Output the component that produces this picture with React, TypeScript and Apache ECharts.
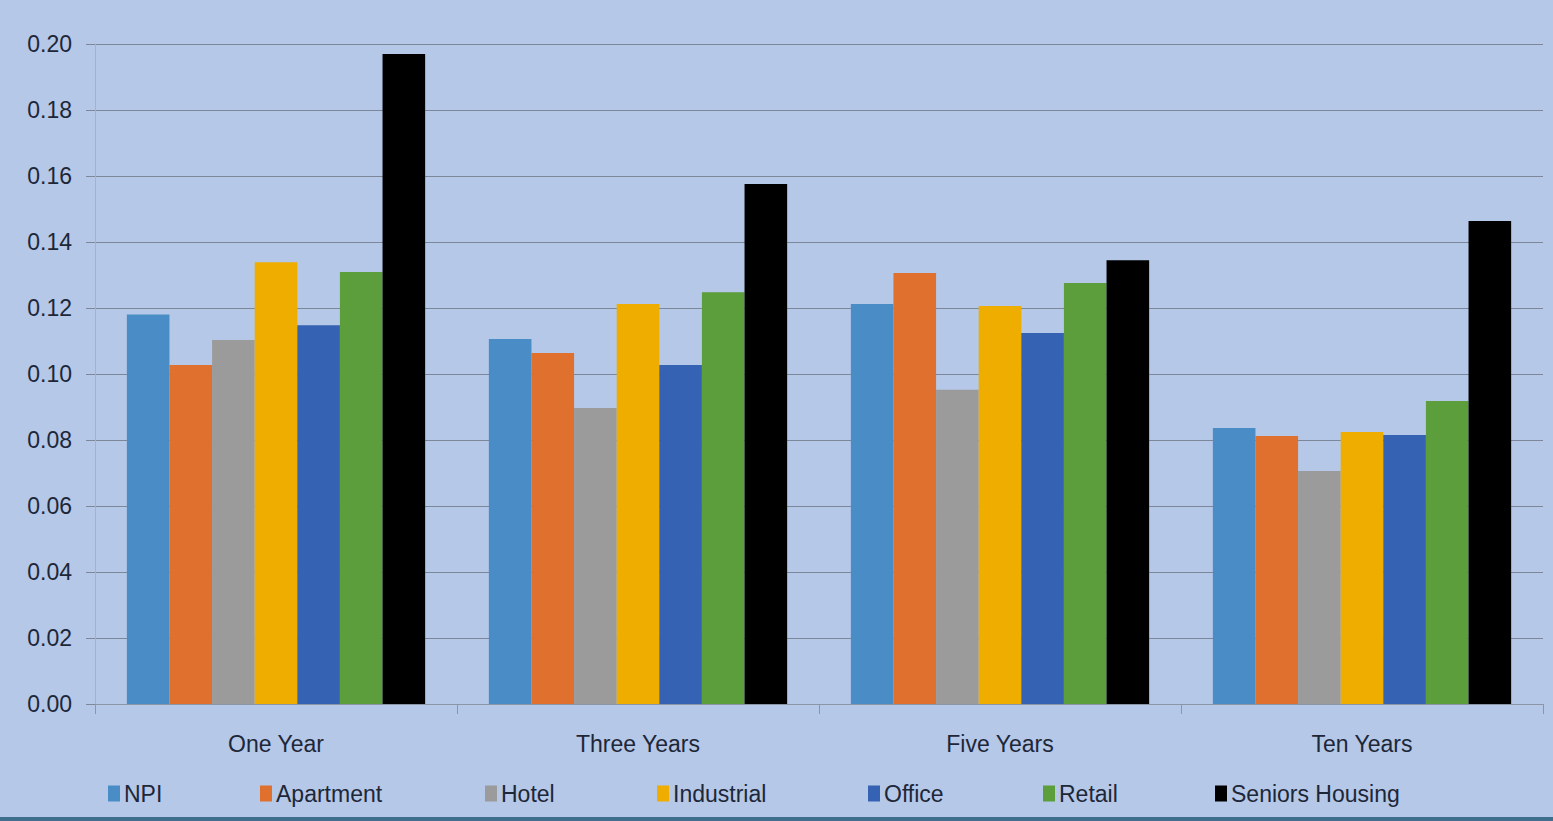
import React, { useEffect, useRef } from "react";
import * as echarts from "echarts";

const categories = ["One Year", "Three Years", "Five Years", "Ten Years"];
const seriesNames = ["NPI", "Apartment", "Hotel", "Industrial", "Office", "Retail", "Seniors Housing"];
const seriesColors = ["#4a8dc6", "#e0702d", "#9b9b9b", "#efad00", "#3562b2", "#5b9e3b", "#000000"];
const npi = [0.118, 0.1106, 0.1212, 0.0836];
const apartment = [0.1027, 0.1064, 0.1306, 0.0812];
const hotel = [0.1103, 0.0897, 0.0952, 0.0706];
const industrial = [0.1339, 0.1212, 0.1206, 0.0824];
const office = [0.1148, 0.1027, 0.1124, 0.0815];
const retail = [0.1309, 0.1248, 0.1276, 0.0918];
const seniors = [0.197, 0.1576, 0.1345, 0.1464];
const seriesValues = [npi, apartment, hotel, industrial, office, retail, seniors];
const legendLefts = [108, 260, 485, 657, 868, 1043, 1215];

const FONT = "'Liberation Sans Narrow', 'Liberation Sans', Arial, sans-serif";

export default function App() {
  const ref = useRef<HTMLDivElement>(null);
  useEffect(() => {
    document.body.style.margin = "0";
    const chart = echarts.init(ref.current!, undefined, { renderer: "svg" });
    chart.setOption({
      animation: false,
      backgroundColor: "#b5c8e8",
      textStyle: { fontFamily: FONT },
      grid: { left: 95, right: 10, top: 44, bottom: 117 },
      legend: seriesNames.map((n, i) => ({
        data: [n],
        left: legendLefts[i],
        top: 782,
        padding: 0,
        itemWidth: 12,
        itemHeight: 16,
        itemGap: 4,
        icon: "rect",
        textStyle: { fontFamily: FONT, fontSize: 23, color: "#1d2738", padding: [0, 0, 0, -1] },
      })),
      xAxis: {
        type: "category",
        data: categories,
        axisLine: { show: true, lineStyle: { color: "#8b95a6", width: 1 } },
        axisTick: { show: true, length: 10, alignWithLabel: false, lineStyle: { color: "#8b95a6" } },
        axisLabel: { fontFamily: FONT, fontSize: 23, color: "#1d2738", margin: 28 },
      },
      yAxis: {
        type: "value",
        min: 0,
        max: 0.2,
        interval: 0.02,
        axisLine: { show: true, lineStyle: { color: "#a3b2c8" } },
        axisTick: { show: true, length: 9, lineStyle: { color: "#7c8799" } },
        splitLine: { lineStyle: { color: "#7c8799", width: 1.2 } },
        axisLabel: {
          fontFamily: FONT,
          fontSize: 23,
          color: "#1d2738",
          margin: 23,
          formatter: (v: number) => v.toFixed(2),
        },
      },
      series: seriesNames.map((n, i) => ({
        name: n,
        type: "bar",
        data: seriesValues[i],
        barGap: "0%",
        barCategoryGap: "17.6%",
        itemStyle: { color: seriesColors[i] },
      })),
      graphic: [
        { type: "rect", left: 0, top: 817, shape: { width: 1553, height: 4 }, style: { fill: "#3f6d8c" } },
      ],
    });
    return () => chart.dispose();
  }, []);
  return <div ref={ref} style={{ width: 1553, height: 821 }} />;
}
